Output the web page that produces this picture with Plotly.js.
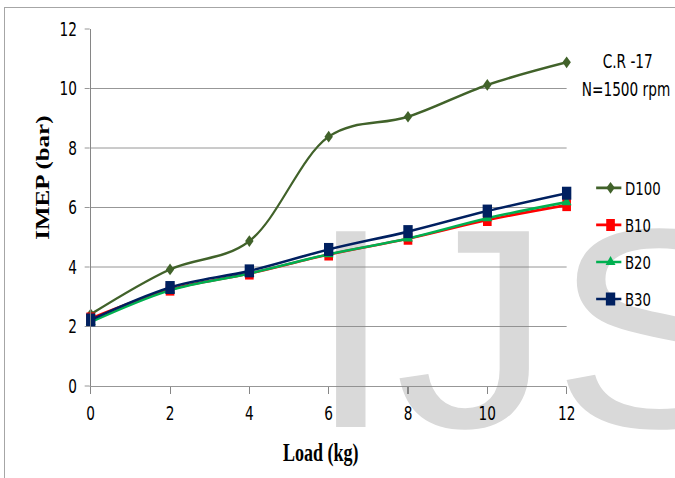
<!DOCTYPE html>
<html>
<head>
<meta charset="utf-8">
<script src="https://cdn.plot.ly/plotly-3.0.1.min.js"></script>
<style>
  html, body { margin: 0; padding: 0; width: 675px; height: 478px; overflow: hidden; background: #ffffff; }
  #frame { position: absolute; left: 4px; top: 7px; width: 720px; height: 520px; border: 1px solid #a6a6a6; box-sizing: border-box; }
  #mark { position: absolute; left: 0; top: 0; }
  #wrap { position: absolute; left: 0; top: 0; width: 938px; height: 478px; transform: scale(0.72, 1); transform-origin: 0 0; }
  #chart { width: 938px; height: 478px; }
</style>
</head>
<body>
<div id="frame"></div>
<svg id="mark" width="675" height="478" xmlns="http://www.w3.org/2000/svg">
  <text transform="translate(307,427) scale(1.08,0.975)" x="0" y="0" font-family="Liberation Sans, Arial, sans-serif" font-size="292" fill="#d9d9d9">IJS</text>
</svg>
<div id="wrap"><div id="chart"></div></div>
<script>
// Data
const loads = [0, 2, 4, 6, 8, 10, 12];
const d100 = [2.41, 3.92, 4.87, 8.38, 9.05, 10.12, 10.88];
const b10  = [2.27, 3.24, 3.78, 4.42, 4.95, 5.58, 6.08];
const b20  = [2.15, 3.22, 3.78, 4.43, 4.96, 5.64, 6.18];
const b30  = [2.22, 3.31, 3.87, 4.59, 5.19, 5.88, 6.48];
const seriesNames = ['D100', 'B10', 'B20', 'B30'];
const yTicks = [0, 2, 4, 6, 8, 10, 12];
const xTicks = [0, 2, 4, 6, 8, 10, 12];

const calib = 'DejaVu Sans, Noto Sans, sans-serif';
const serif = 'Liberation Serif, Times New Roman, serif';

function tr(name, y, color, symbol, size) {
  return {
    x: loads, y: y, name: name, type: 'scatter', mode: 'lines+markers',
    line: { color: color, width: 2.6, shape: 'spline', smoothing: 1 },
    marker: { color: color, symbol: symbol, size: size },
    cliponaxis: false, legendgroup: name
  };
}

const data = [
  tr(seriesNames[0], d100, '#41622a', 'diamond', 9),
  tr(seriesNames[1], b10, '#ff0000', 'square', 12),
  tr(seriesNames[2], b20, '#00b050', 'triangle-up', 12),
  tr(seriesNames[3], b30, '#002060', 'square', 13)
];

const axisGray = '#868686';

const layout = {
  width: 938, height: 478,
  margin: { l: 126, r: 151, t: 29, b: 92, pad: 0 },
  paper_bgcolor: 'rgba(0,0,0,0)',
  plot_bgcolor: 'rgba(0,0,0,0)',
  showlegend: true,
  legend: {
    x: 1.062, xanchor: 'left', y: 0.607, yanchor: 'top',
    font: { family: calib, size: 18.5, color: '#000000' },
    bgcolor: 'rgba(0,0,0,0)', borderwidth: 0, tracegroupgap: 10
  },
  xaxis: {
    range: [0, 12], tickvals: xTicks, ticktext: xTicks.map(String),
    showgrid: false, zeroline: false,
    showline: true, linecolor: axisGray, linewidth: 1,
    ticks: 'outside', ticklen: 7, tickwidth: 1.4, tickcolor: axisGray,
    tickfont: { family: calib, size: 19, color: '#000000' },
    ticklabelstandoff: 3
  },
  yaxis: {
    range: [0, 12], tickvals: yTicks, ticktext: yTicks.map(String),
    showgrid: true, gridcolor: axisGray, gridwidth: 1, zeroline: false,
    showline: true, linecolor: axisGray, linewidth: 1.4,
    ticks: 'outside', ticklen: 7, tickwidth: 1, tickcolor: axisGray,
    tickfont: { family: calib, size: 19, color: '#000000' },
    ticklabelstandoff: 7
  },
  annotations: [
    { text: '<b>Load (kg)</b>', xref: 'paper', yref: 'paper', x: 0.484, y: -0.189,
      xanchor: 'center', yanchor: 'middle', showarrow: false,
      font: { family: serif, size: 25, color: '#000000' } },
    { text: '<b>IMEP (bar)</b>', xref: 'paper', yref: 'paper', x: -0.101, y: 0.584,
      xanchor: 'center', yanchor: 'middle', showarrow: false, textangle: -90,
      font: { family: serif, size: 25, color: '#000000' } },
    { text: 'C.R -17', xref: 'paper', yref: 'paper', x: 1.129, y: 0.910,
      xanchor: 'center', yanchor: 'middle', showarrow: false,
      font: { family: calib, size: 19, color: '#000000' } },
    { text: 'N=1500 rpm', xref: 'paper', yref: 'paper', x: 1.125, y: 0.833,
      xanchor: 'center', yanchor: 'middle', showarrow: false,
      font: { family: calib, size: 19, color: '#000000' } }
  ]
};

Plotly.newPlot('chart', data, layout, { staticPlot: true, displayModeBar: false }).then(function () {
  // lengthen the legend sample lines to match the reference's legend keys
  document.querySelectorAll('#chart .legendlines path').forEach(function (p) {
    p.setAttribute('d', 'M-9,0h44');
  });
});
</script>
</body>
</html>
